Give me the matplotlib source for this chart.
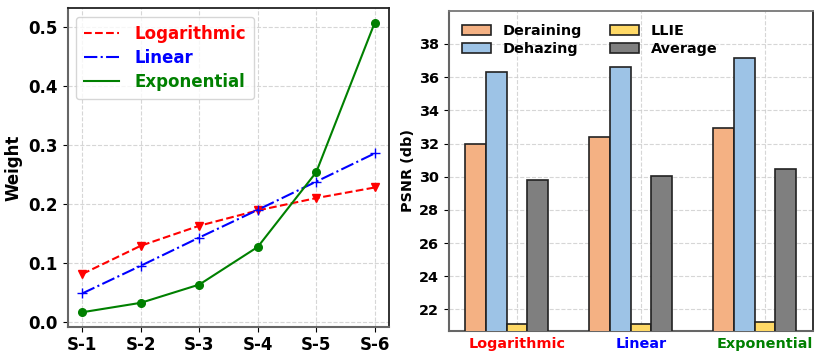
import numpy as np
import matplotlib
matplotlib.use("Agg")
import matplotlib.pyplot as plt
from matplotlib.lines import Line2D

# left panel: weights per stage
stages = ["S-1", "S-2", "S-3", "S-4", "S-5", "S-6"]
w_log = [0.081, 0.129, 0.163, 0.189, 0.210, 0.228]
w_lin = [0.048, 0.095, 0.143, 0.190, 0.238, 0.286]
w_exp = [0.016, 0.032, 0.063, 0.127, 0.254, 0.508]

# right panel: PSNR per schedule
schedules = ["Logarithmic", "Linear", "Exponential"]
sched_colors = ["red", "blue", "green"]
deraining = [32.0, 32.42, 32.94]
dehazing = [36.34, 36.62, 37.14]
llie = [21.1, 21.1, 21.25]
average = [29.8, 30.05, 30.46]

fig = plt.figure(figsize=(8.31, 3.6), dpi=100)
ax1 = fig.add_axes([0.0815, 0.0925, 0.387, 0.8845])
ax2 = fig.add_axes([0.540, 0.0806, 0.438, 0.8894])

# ---- left: weight curves
x = np.arange(len(stages))
ax1.plot(x, w_log, color="red", ls="--", marker="v", markersize=6, lw=1.5)
ax1.plot(x, w_lin, color="blue", ls="-.", marker="+", markersize=7, lw=1.5)
ax1.plot(x, w_exp, color="green", ls="-", marker="o", markersize=5.5, lw=1.5)
ax1.set_xticks(x)
ax1.set_xticklabels(stages)
ax1.set_yticks([0.0, 0.1, 0.2, 0.3, 0.4, 0.5])
ax1.set_ylabel("Weight", fontsize=12, fontweight="bold")
ax1.grid(True, linestyle="--", color="#cccccc", alpha=0.8)
for lab in ax1.get_xticklabels() + ax1.get_yticklabels():
    lab.set_fontsize(12)
    lab.set_fontweight("bold")

handles = [
    Line2D([], [], color="red", ls="--", lw=1.5),
    Line2D([], [], color="blue", ls="-.", lw=1.5),
    Line2D([], [], color="green", ls="-", lw=1.5),
]
leg = ax1.legend(handles, ["Logarithmic", "Linear", "Exponential"],
                 loc="upper left", prop={"size": 12, "weight": "bold"},
                 handlelength=2.1, handletextpad=0.9, borderpad=0.5,
                 labelspacing=0.35)
for txt, c in zip(leg.get_texts(), ["red", "blue", "green"]):
    txt.set_color(c)

# ---- right: PSNR bars
xb = np.arange(len(schedules))
w = 1 / 6
series = [
    ("Deraining", deraining, "#F4B183"),
    ("Dehazing", dehazing, "#9DC3E6"),
    ("LLIE", llie, "#FFD966"),
    ("Average", average, "#7F7F7F"),
]
for i, (name, vals, col) in enumerate(series):
    ax2.bar(xb + (i - 2) * w, vals, width=w, color=col, edgecolor="#222222",
            linewidth=1.2, label=name, zorder=3)
ax2.set_ylim(20.7, 40)
ax2.set_yticks(np.arange(22, 40, 2))
ax2.set_xticks(xb)
ax2.set_xticklabels(schedules)
ax2.set_ylabel("PSNR (db)", fontsize=10.4, fontweight="bold", labelpad=3)
ax2.grid(True, linestyle="--", color="#cccccc", alpha=0.8, zorder=0)
for lab in ax2.get_yticklabels():
    lab.set_fontsize(10.4)
    lab.set_fontweight("bold")
for lab, c in zip(ax2.get_xticklabels(), sched_colors):
    lab.set_fontsize(10.4)
    lab.set_fontweight("bold")
    lab.set_color(c)
ax2.tick_params(axis="x", length=0, pad=4)
ax2.legend(loc="upper left", ncol=2, frameon=False,
           prop={"size": 10.4, "weight": "bold"}, columnspacing=2.0,
           handlelength=2.0, handletextpad=0.8, labelspacing=0.28)

for ax in (ax1, ax2):
    for s in ["left", "bottom"]:
        ax.spines[s].set_color("#666666")
        ax.spines[s].set_linewidth(1.5)
    for s in ["top", "right"]:
        ax.spines[s].set_color("#222222")
        ax.spines[s].set_linewidth(1.3)
ax2.spines["top"].set_color("#777777")

fig.savefig("out.png", dpi=100)
